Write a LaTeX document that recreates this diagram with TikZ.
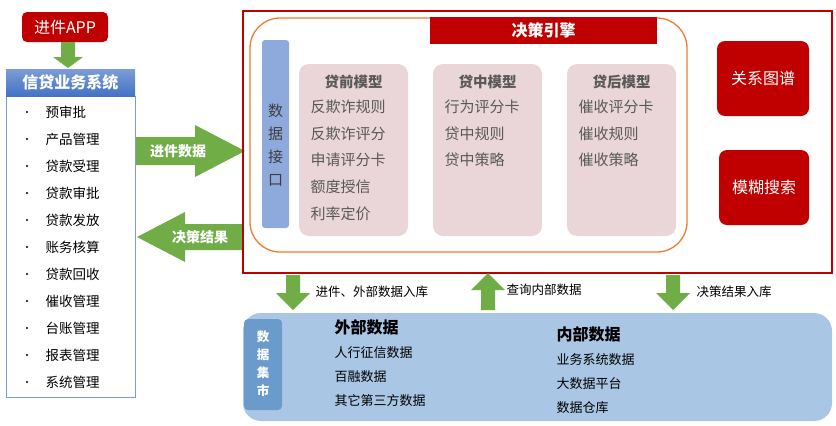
\documentclass[tikz,border=0pt]{standalone}
\usepackage{fontspec}
\setmainfont{Noto Sans CJK SC}
\definecolor{dred}{HTML}{C00000}
\definecolor{agreen}{HTML}{70AD47}
\definecolor{hblue}{HTML}{4472C4}
\definecolor{pinkb}{HTML}{EAD5D8}
\definecolor{ifblue}{HTML}{8EA9DB}
\definecolor{botblue}{HTML}{A9C7E4}
\definecolor{dmblue}{HTML}{6B9BCB}
\definecolor{orng}{HTML}{ED7D31}
\definecolor{gtxt}{HTML}{595959}
\begin{document}
\begin{tikzpicture}[x=1pt,y=-1pt,
  redbox/.style={draw=none,fill=dred,rounded corners=5pt,text=white,font=\fontsize{16}{18}\selectfont},
  garrow/.style={fill=agreen,draw=none},
  li/.style={anchor=west,font=\fontsize{13.5}{15}\selectfont},
  mi/.style={anchor=west,text=gtxt,font=\fontsize{15}{17}\selectfont},
  mt/.style={text=gtxt,font=\bfseries\fontsize{14.5}{16}\selectfont},
  bi/.style={anchor=west,font=\fontsize{13}{15}\selectfont},
  al/.style={anchor=west,font=\fontsize{12.5}{14}\selectfont}]
\useasboundingbox (0,0) rectangle (836,426);
% APP
\node[redbox,minimum width=86pt,minimum height=30pt] (app) at (65,27) {进件APP};
\fill[garrow] (61,42) -- (75,42) -- (75,57) -- (83,57) -- (68,68) -- (53,57) -- (61,57) -- cycle;
% left panel
\draw[hblue!70,fill=white] (6,96) rectangle (135,397);
\shade[top color=hblue!70,bottom color=hblue] (6,69) rectangle (135,96);
\node[text=white,font=\bfseries\fontsize{16}{18}\selectfont] (sys) at (70.5,82.5) {信贷业务系统};
\foreach \t [count=\i from 0] in {预审批,产品管理,贷款受理,贷款审批,贷款发放,账务核算,贷款回收,催收管理,台账管理,报表管理,系统管理}{
  \fill (27,112+27*\i) circle (1.1pt);
  \node[li] (l\i) at (42,112+27*\i) {\t};
}
% arrows horizontal
\fill[garrow] (136,137) -- (195,137) -- (195,125) -- (245,151) -- (195,177) -- (195,165) -- (136,165) -- cycle;
\node[text=white,font=\bfseries\fontsize{14}{16}\selectfont] (jj) at (178,151) {进件数据};
\fill[garrow] (137,237) -- (185,212) -- (185,224) -- (243,224) -- (243,250) -- (185,250) -- (185,262) -- cycle;
\node[text=white,font=\bfseries\fontsize{14}{16}\selectfont] (jg) at (200,237) {决策结果};
% engine
\draw[dred,line width=1.5pt] (243,11) rectangle (832,273);
\draw[orng,line width=1.3pt,rounded corners=30pt] (250,18) rectangle (687,252);
\fill[dred] (430,17) rectangle (657,44);
\node[text=white,font=\bfseries\fontsize{16}{18}\selectfont] (eng) at (543.5,30.5) {决策引擎};
\fill[ifblue,rounded corners=3pt] (262,40) rectangle (289,228);
\node[font=\fontsize{15}{23}\selectfont,align=center,text=gtxt!70!black] (iface) at (275.5,145) {数\\据\\接\\口};
\foreach \x/\h/\a/\b/\c/\d/\e in {299/贷前模型/反欺诈规则/反欺诈评分/申请评分卡/额度授信/利率定价,433/贷中模型/行为评分卡/贷中规则/贷中策略//,567/贷后模型/催收评分卡/催收规则/催收策略//}{
  \fill[pinkb,rounded corners=10pt] (\x,64) rectangle (\x+109,236);
  \node[mt] at (\x+54.5,82) {\h};
  \node[mi] at (\x+8,107) {\a};
  \node[mi] at (\x+8,134) {\b};
  \node[mi] at (\x+8,160) {\c};
  \node[mi] at (\x+8,187) {\d};
  \node[mi] at (\x+8,214) {\e};
}
\node[redbox,minimum width=92pt,minimum height=75pt,rounded corners=8pt] (gx) at (763,78.5) {关系图谱};
\node[redbox,minimum width=90pt,minimum height=75pt,rounded corners=8pt] (mh) at (764,187.5) {模糊搜索};
% vertical arrows
\fill[garrow] (286,275) -- (300,275) -- (300,293) -- (310,293) -- (293,310) -- (276,293) -- (286,293) -- cycle;
\node[al] (a1) at (312,292) {进件、外部数据入库};
\fill[garrow] (481,310) -- (495,310) -- (495,290) -- (505,290) -- (488,273) -- (471,290) -- (481,290) -- cycle;
\node[al] (a2) at (503,290) {查询内部数据};
\fill[garrow] (666,275) -- (680,275) -- (680,293) -- (690,293) -- (673,310) -- (656,293) -- (666,293) -- cycle;
\node[al] (a3) at (693,292) {决策结果入库};
% bottom
\fill[botblue,rounded corners=18pt] (243,313) rectangle (832,421);
\fill[dmblue,rounded corners=4pt] (244,319) rectangle (282,410);
\node[text=white,font=\bfseries\fontsize{12.5}{18}\selectfont,align=center] (dm) at (263,364) {数\\据\\集\\市};
\node[anchor=west,font=\bfseries\fontsize{16}{18}\selectfont] (wb) at (331,327) {外部数据};
\node[bi] at (331,353) {人行征信数据};
\node[bi] at (331,377) {百融数据};
\node[bi] at (331,401) {其它第三方数据};
\node[anchor=west,font=\bfseries\fontsize{16}{18}\selectfont] (nb) at (553,334) {内部数据};
\node[bi] at (553,360) {业务系统数据};
\node[bi] at (553,384) {大数据平台};
\node[bi] at (553,408) {数据仓库};
\end{tikzpicture}
\end{document}
